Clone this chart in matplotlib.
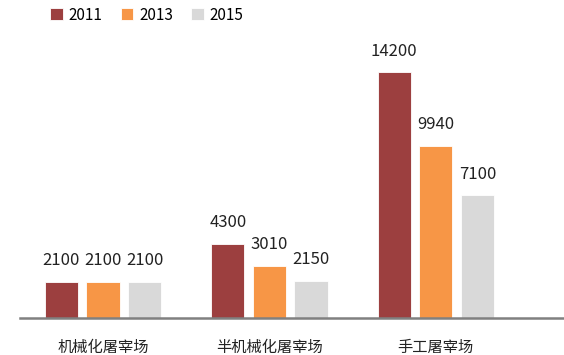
import matplotlib.pyplot as plt
import numpy as np

plt.rcParams['font.family'] = ['Noto Sans CJK SC', 'DejaVu Sans']

categories = ['机械化屠宰场', '半机械化屠宰场', '手工屠宰场']
years = ['2011', '2013', '2015']
v2011 = [2100, 4300, 14200]
v2013 = [2100, 3010, 9940]
v2015 = [2100, 2150, 7100]
colors = ['#9C3F3F', '#F79646', '#D9D9D9']

fig = plt.figure(figsize=(5.64, 3.55), dpi=100)
ax = fig.add_axes([0.035, 0.104, 0.965, 0.896])

x = np.arange(len(categories))
width = 0.2
offsets = [-0.25, 0, 0.25]
for vals, off, c, yr in zip([v2011, v2013, v2015], offsets, colors, years):
    bars = ax.bar(x + off, vals, width, color=c, edgecolor='white', linewidth=0.6, label=yr)
    for b, v in zip(bars, vals):
        ax.annotate(str(v), (b.get_x() + b.get_width() / 2, v), textcoords='offset points',
                    xytext=(0, 9), ha='center', va='bottom', fontsize=12, color='#222222')

ax.set_xlim(-0.5, 2.77)
ax.set_ylim(0, 18360)
for s in ['top', 'right', 'left']:
    ax.spines[s].set_visible(False)
ax.spines['bottom'].set_color('#808080')
ax.spines['bottom'].set_linewidth(1.8)
ax.set_yticks([])
ax.set_xticks(x)
ax.set_xticklabels(categories, fontsize=11, color='#222222')
ax.tick_params(axis='x', length=0, pad=15)

fig.legend(loc='upper left', bbox_to_anchor=(0.065, 1.02), ncol=3, frameon=False,
           fontsize=11, handlelength=0.8, handleheight=0.8, handletextpad=0.4,
           columnspacing=1.2)

fig.savefig('out.png', dpi=100)
